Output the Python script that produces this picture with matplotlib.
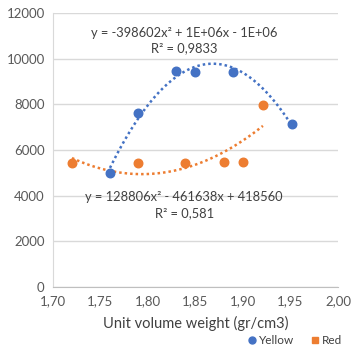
import matplotlib
matplotlib.use("Agg")
import matplotlib.pyplot as plt
import numpy as np
from matplotlib.lines import Line2D

plt.rcParams['font.family'] = ['Lato', 'DejaVu Sans']

yellow_x = [1.76, 1.789, 1.829, 1.849, 1.889, 1.952]
yellow_y = [4980, 7620, 9450, 9410, 9400, 7130]
red_x = [1.72, 1.789, 1.839, 1.880, 1.900, 1.921]
red_y = [5430, 5430, 5420, 5470, 5470, 7960]

yellow_eq = "y = -398602x² + 1E+06x - 1E+06\nR² = 0,9833"
red_eq = "y = 128806x² - 461638x + 418560\nR² = 0,581"

xticks = [1.70, 1.75, 1.80, 1.85, 1.90, 1.95, 2.00]
yticks = [0, 2000, 4000, 6000, 8000, 10000, 12000]

blue = '#4472C4'
orange = '#ED7D31'

fig = plt.figure(figsize=(3.58, 3.57), dpi=100)
ax = fig.add_axes([0.148, 0.196, 0.796, 0.768])

for xs, ys, c in [(yellow_x, yellow_y, blue), (red_x, red_y, orange)]:
    p = np.polyfit(xs, ys, 2)
    xx = np.linspace(min(xs), max(xs), 100)
    ax.plot(xx, np.polyval(p, xx), linestyle=(0, (1, 1.2)), color=c, lw=1.8, zorder=2)

ax.scatter(yellow_x, yellow_y, s=38, color=blue, zorder=3)
ax.scatter(red_x, red_y, s=38, color=orange, zorder=3)

ax.set_xlim(1.70, 2.00)
ax.set_ylim(0, 12000)
ax.set_xticks(xticks)
ax.set_xticklabels([f"{t:.2f}".replace('.', ',') for t in xticks])
ax.set_yticks(yticks)
ax.set_yticklabels([str(t) for t in yticks])
ax.grid(axis='y', color='#D9D9D9', lw=1)
ax.set_axisbelow(True)
for s in ['top', 'right']:
    ax.spines[s].set_visible(False)
ax.spines['left'].set_color('#D9D9D9')
ax.spines['bottom'].set_color('#BFBFBF')
ax.tick_params(length=0, labelsize=9.5, colors='#595959', pad=6)
ax.set_xlabel("Unit volume weight (gr/cm3)", fontsize=10.5, color='#404040', labelpad=6)

ax.text(0.46, 0.95, yellow_eq, transform=ax.transAxes, ha='center', va='top',
        fontsize=9.3, color='#404040', linespacing=1.4)
ax.text(0.46, 0.35, red_eq, transform=ax.transAxes, ha='center', va='top',
        fontsize=9.3, color='#404040', linespacing=1.4)

handles = [Line2D([], [], marker='o', ls='', color=blue, markersize=5),
           Line2D([], [], marker='s', ls='', color=orange, markersize=5)]
fig.legend(handles, ['Yellow', 'Red'], loc='lower right', bbox_to_anchor=(0.985, 0.0),
           ncol=2, frameon=False, fontsize=8.5, handletextpad=0.1, columnspacing=1.2,
           handlelength=1.0, labelcolor='#404040')

fig.savefig("out.png", dpi=100, facecolor='white')
